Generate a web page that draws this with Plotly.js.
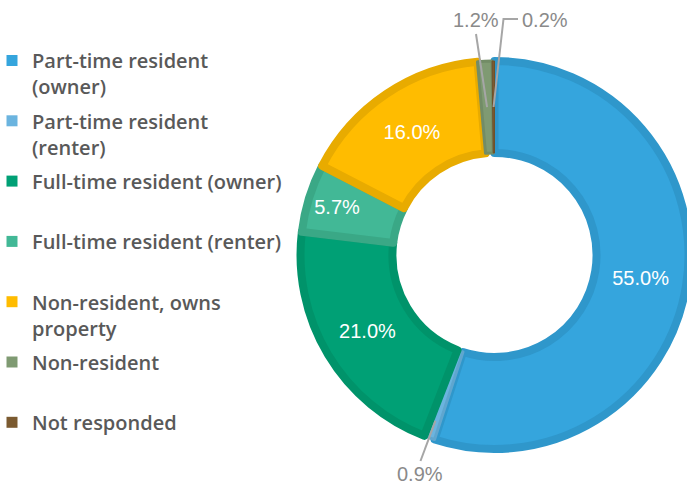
<!DOCTYPE html>
<html>
<head>
<meta charset="utf-8">
<script src="https://cdn.plot.ly/plotly-3.0.1.min.js"></script>
<style>
  html, body { margin: 0; padding: 0; overflow: hidden; background: #fff; }
  #chart { width: 700px; height: 487px; }
</style>
</head>
<body>
<div id="chart"></div>
<script>
// ---- data ----
var categories = [
  "Part-time resident (owner)",
  "Part-time resident (renter)",
  "Full-time resident (owner)",
  "Full-time resident (renter)",
  "Non-resident, owns property",
  "Non-resident",
  "Not responded"
];
var legendLabels = [
  "Part-time resident<br>(owner)",
  "Part-time resident<br>(renter)",
  "Full-time resident (owner)<br>\u00a0",
  "Full-time resident (renter)<br>\u00a0",
  "Non-resident, owns<br>property",
  "Non-resident<br>\u00a0",
  "Not responded<br>\u00a0"
];
var values = [55.0, 0.9, 21.0, 5.7, 16.0, 1.2, 0.2];
var sliceColors = ["#35a5dd", "#6bb4df", "#00a075", "#42b896", "#ffbc00", "#7f9a72", "#7b5a30"];
var edgeColors  = ["#2f97cb", "#5fa6cf", "#00936a", "#3aa886", "#e8ab00", "#728c66", "#6e512b"];
var edgeWidths  = [8, 3, 8, 8, 8, 3, 1];
var textPositions = ["inside", "none", "inside", "inside", "inside", "none", "none"];
var outsideLabelPos = {1: [420, 474], 5: [476, 20], 6: [545, 20]};

// ---- geometry ----
var W = 700, H = 487;
var cx = 494.5, cy = 255, rFill = 194;
function px(x) { return x / W; }
function py(y) { return 1 - y / H; }

var pie = {
  type: "pie",
  values: values,
  labels: categories,
  sort: false,
  direction: "clockwise",
  rotation: 0,
  hole: 0.526,
  domain: { x: [px(cx - rFill), px(cx + rFill)], y: [py(cy + rFill), py(cy - rFill)] },
  marker: { colors: sliceColors, line: { color: edgeColors, width: edgeWidths } },
  texttemplate: "%{percent:.1%}",
  textposition: textPositions,
  insidetextorientation: "horizontal",
  insidetextfont: { family: "Liberation Sans, Arial, sans-serif", size: 20, color: "#ffffff" },
  showlegend: false,
  hoverinfo: "skip"
};

var traces = [pie];
categories.forEach(function (c, i) {
  traces.push({
    type: "scatter",
    x: [null], y: [null],
    mode: "markers",
    name: legendLabels[i],
    legendgroup: "g" + i,
    marker: { symbol: "square", size: 11, color: sliceColors[i] },
    hoverinfo: "skip"
  });
});

// leader lines / outside labels computed from slice angles
var total = values.reduce(function (a, b) { return a + b; }, 0);
var cum = 0, mids = [];
values.forEach(function (v) { mids.push((cum + v / 2) / total * 2 * Math.PI); cum += v; });
function pt(i, r) { return [cx + r * Math.sin(mids[i]), cy - r * Math.cos(mids[i])]; }

var annotations = [], shapes = [];
var labelFont = { family: "Liberation Sans, Arial, sans-serif", size: 20, color: "#8a8a8a" };
function addLabel(i) {
  var lab = outsideLabelPos[i];
  annotations.push({ xref: "paper", yref: "paper", x: px(lab[0]), y: py(lab[1]),
    xanchor: "center", yanchor: "middle",
    text: values[i].toFixed(1) + "%", showarrow: false, font: labelFont });
}
// 0.9%
(function () {
  var i = 1, tip = pt(i, 176);
  addLabel(i);
  shapes.push({ type: "line", xref: "paper", yref: "paper",
    x0: px(420.5), y0: py(461), x1: px(tip[0]), y1: py(tip[1]),
    line: { color: "#a6a6a6", width: 2 } });
})();
// 1.2%
(function () {
  var i = 5, tip = pt(i, 148);
  addLabel(i);
  shapes.push({ type: "line", xref: "paper", yref: "paper",
    x0: px(476), y0: py(34), x1: px(tip[0]), y1: py(tip[1]),
    line: { color: "#a6a6a6", width: 2 } });
})();
// 0.2%
(function () {
  var i = 6, tip = pt(i, 148);
  addLabel(i);
  shapes.push({ type: "path", xref: "paper", yref: "paper",
    path: "M" + px(518) + "," + py(19) + " L" + px(503.5) + "," + py(19) + " L" + px(tip[0]) + "," + py(tip[1]),
    line: { color: "#a6a6a6", width: 2 } });
})();

var layout = {
  width: W, height: H,
  margin: { l: 0, r: 0, t: 0, b: 0 },
  paper_bgcolor: "#ffffff",
  plot_bgcolor: "rgba(0,0,0,0)",
  xaxis: { visible: false, range: [0, 1] },
  yaxis: { visible: false, range: [0, 1] },
  showlegend: true,
  legend: {
    x: 0, xanchor: "left",
    y: py(41), yanchor: "top",
    valign: "top",
    indentation: -8,
    tracegroupgap: 5.3,
    bgcolor: "rgba(0,0,0,0)",
    font: { family: "Open Sans, sans-serif", size: 20, color: "#595959", weight: 600 }
  },
  annotations: annotations,
  shapes: shapes
};

Plotly.newPlot("chart", traces, layout, { staticPlot: true, displayModeBar: false });
</script>
</body>
</html>
